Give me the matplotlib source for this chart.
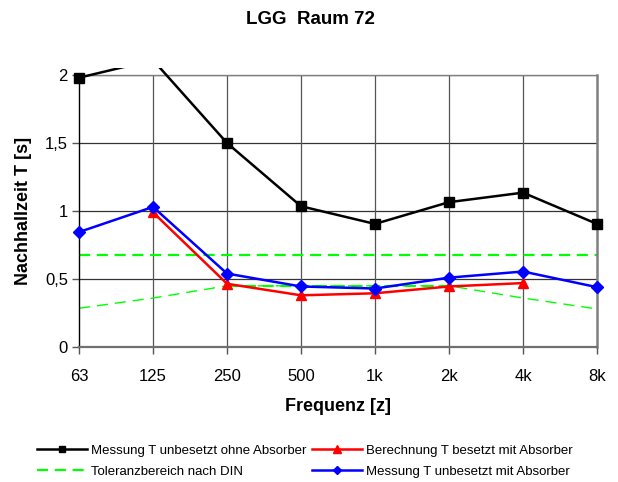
import numpy as np
import matplotlib
matplotlib.use("Agg")
import matplotlib.pyplot as plt
from matplotlib.transforms import Bbox, TransformedBbox

plt.rcParams['font.family'] = ['Liberation Sans', 'DejaVu Sans']

categories = ["63", "125", "250", "500", "1k", "2k", "4k", "8k"]
mess_ohne = [1.98, 2.11, 1.50, 1.035, 0.905, 1.065, 1.135, 0.905]
ber_mit = [np.nan, 0.99, 0.465, 0.38, 0.395, 0.445, 0.47, np.nan]
mess_mit = [0.845, 1.03, 0.54, 0.445, 0.43, 0.51, 0.555, 0.44]
tol_upper = [0.675, 0.675, 0.675, 0.675, 0.675, 0.675, 0.675, 0.675]
tol_lower = [0.285, 0.36, 0.45, 0.45, 0.45, 0.45, 0.36, 0.28]
tol_lower_core = [np.nan, np.nan, 0.45, 0.45, 0.45, 0.45, np.nan, np.nan]
yticks = [0, 0.5, 1, 1.5, 2]
ytick_labels = ["0", "0,5", "1", "1,5", "2"]

x = np.arange(len(categories))

fig = plt.figure(figsize=(6.18, 4.82), dpi=100)
ax = fig.add_axes([79/618, 1-347/482, (597-79)/618, (347-75)/482])

ax.set_xlim(0, len(categories)-1)
ax.set_ylim(0, 2)

# grid
for v in yticks[1:]:
    ax.axhline(v, color='#333333', lw=0.9, zorder=1)
for xi in x[1:-1]:
    ax.axvline(xi, color='#555555', lw=0.9, zorder=1)

# tolerance lines
ax.plot(x, tol_lower, color='#00ff00', lw=1.0, dashes=(8, 5), zorder=2)
ax.plot(x, tol_upper, color='#00ff00', lw=1.6, dashes=(5, 3), zorder=2,
        label="Toleranzbereich nach DIN")
ax.plot(x, tol_lower_core, color='#00ff00', lw=1.6, dashes=(5, 3), zorder=2)

clipbox = TransformedBbox(Bbox([[-0.03, -0.03], [1.03, 1.026]]), ax.transAxes)

l1, = ax.plot(x, mess_ohne, color='black', lw=1.8, marker='s', ms=6.5,
              label="Messung T unbesetzt ohne Absorber", zorder=5)
l2, = ax.plot(x, ber_mit, color='red', lw=1.8, marker='^', ms=7.5,
              label="Berechnung T besetzt mit Absorber", zorder=4)
l3, = ax.plot(x, mess_mit, color='blue', lw=1.8, marker='D', ms=6,
              label="Messung T unbesetzt mit Absorber", zorder=6)
for l in (l1, l2, l3):
    l.set_clip_box(clipbox)

# spines
for s in ['top', 'right']:
    ax.spines[s].set_color('#808080')
ax.spines['top'].set_linewidth(1.0)
ax.spines['right'].set_linewidth(1.8)
ax.spines['bottom'].set_color('#707070')
ax.spines['bottom'].set_linewidth(1.6)
ax.spines['left'].set_color('black')
ax.spines['left'].set_linewidth(1.0)

ax.set_xticks(x)
ax.set_xticklabels(categories, fontsize=12)
ax.set_yticks(yticks)
ax.set_yticklabels(ytick_labels, fontsize=12)
ax.tick_params(axis='both', direction='out', length=5, width=1, color='#555555')
ax.tick_params(axis='x', pad=11)
ax.tick_params(axis='y', pad=3)

ax.set_xlabel("Frequenz [z]", fontsize=13, fontweight='bold', labelpad=10)
ax.set_ylabel("Nachhallzeit T [s]", fontsize=13, fontweight='bold', labelpad=9)
fig.text(310/618, 1-20/482, "LGG  Raum 72", ha='center', va='center',
         fontsize=13.5, fontweight='bold')

handles, labels = ax.get_legend_handles_labels()
order = ["Messung T unbesetzt ohne Absorber", "Toleranzbereich nach DIN",
         "Berechnung T besetzt mit Absorber", "Messung T unbesetzt mit Absorber"]
hmap = dict(zip(labels, handles))
leg = fig.legend([hmap[o] for o in order], order, ncol=2, loc='center',
                 bbox_to_anchor=(305/618, 1-461/482), frameon=False,
                 fontsize=9.5, handlelength=3.8, handletextpad=0.3,
                 columnspacing=0.45, labelspacing=0.67, markerscale=0.7,
                 borderpad=0)

fig.savefig("out.png", dpi=100)
